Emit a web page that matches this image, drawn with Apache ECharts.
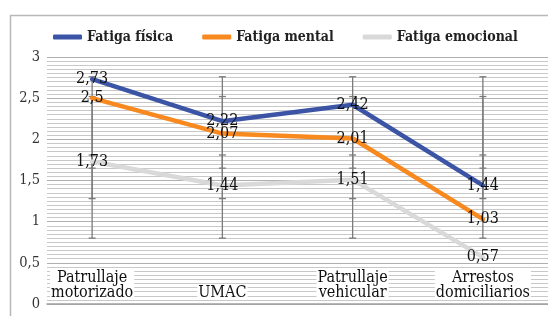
<!DOCTYPE html>
<html>
<head>
<meta charset="utf-8">
<script src="https://cdn.jsdelivr.net/npm/echarts@6/dist/echarts.min.js"></script>
<style>html,body{margin:0;padding:0;background:#fff}#c{width:548px;height:316px}</style>
</head>
<body>
<div id="c"></div>
<script>
var categories = ['Patrullaje\nmotorizado', 'UMAC', 'Patrullaje\nvehicular', 'Arrestos\ndomiciliarios'];
var seriesNames = ['Fatiga física', 'Fatiga mental', 'Fatiga emocional'];
var fisica = [2.73, 2.22, 2.42, 1.44];
var mental = [2.5, 2.07, 2.01, 1.03];
var emocional = [1.73, 1.44, 1.51, 0.57];
// error bar ranges [low, high]
var fisicaErr = [1.65, 2.76];
var mentalErr = [1.28, 2.52];
var emocionalErr = [0.80, 1.81];

var colors = ['#3b54a5', '#f7891f', '#d9d9d9'];
var serifC = 'DejaVu Serif Condensed';

function fmt(v) { return String(v).replace('.', ','); }

var errData = [];
[fisicaErr, mentalErr, emocionalErr].forEach(function (e) {
  categories.forEach(function (c, i) { errData.push([i, e[0], e[1]]); });
});

var chart = echarts.init(document.getElementById('c'), null, {renderer: 'canvas'});

function lineSeries(name, data, color, z) {
  return {
    name: name, type: 'line', xAxisIndex: 1, yAxisIndex: 1,
    data: data, symbol: 'circle', symbolSize: 2, showSymbol: true, z: z,
    lineStyle: {color: color, width: 4.5, cap: 'round'},
    itemStyle: {color: color},
    label: {
      show: true, position: 'inside', color: '#111',
      fontFamily: serifC, fontSize: 16,
      formatter: function (p) { return fmt(p.value); }
    },
    emphasis: {disabled: true}
  };
}

chart.setOption({
  animation: false,
  backgroundColor: '#fff',
  graphic: [{
    type: 'rect', z: -10,
    shape: {x: 10.5, y: 15.5, width: 700, height: 400},
    style: {fill: 'none', stroke: '#b8b8b8', lineWidth: 1.5}
  }],
  legend: {
    left: 48, top: 25, itemWidth: 29, itemHeight: 5, itemGap: 29,
    icon: 'roundRect',
    data: seriesNames,
    textStyle: {fontFamily: serifC, fontSize: 14, fontWeight: 'bold', color: '#222'}
  },
  grid: [
    {left: 47, right: 0, top: 57, bottom: 12},
    {left: 27, right: -16, top: 57, bottom: 12}
  ],
  xAxis: [
    {type: 'value', gridIndex: 0, min: 0, max: 1, show: true,
     axisLine: {show: true, onZero: true, lineStyle: {color: '#a0a0a0', width: 1.5}},
     axisTick: {show: false}, axisLabel: {show: false}, splitLine: {show: false}},
    {type: 'category', gridIndex: 1, data: categories, boundaryGap: true,
     axisLine: {show: false}, axisTick: {show: false}, splitLine: {show: false},
     axisLabel: {
       inside: true, margin: 4, interval: 0, color: '#111',
       fontFamily: serifC, fontSize: 16, lineHeight: 14.5,
       backgroundColor: '#fff', padding: [0, 1]
     }}
  ],
  yAxis: [
    {type: 'value', gridIndex: 0, min: 0, max: 3, interval: 0.5,
     axisLine: {show: false}, axisTick: {show: false},
     axisLabel: {margin: 7, color: '#333', fontFamily: serifC, fontSize: 14.5,
       formatter: function (v) { return fmt(v); }},
     splitLine: {show: true, lineStyle: {color: '#b0b0b0', width: 1}},
     minorTick: {show: false, splitNumber: 10},
     minorSplitLine: {show: true, lineStyle: {color: '#c8c8c8', width: 1}}},
    {type: 'value', gridIndex: 1, min: 0, max: 3, show: false,
     splitLine: {show: false}}
  ],
  series: [
    {
      type: 'custom', xAxisIndex: 1, yAxisIndex: 1, z: 1,
      data: errData, silent: true,
      renderItem: function (params, api) {
        var top = api.coord([api.value(0), api.value(2)]);
        var bot = api.coord([api.value(0), api.value(1)]);
        var s = {stroke: '#7a7a7a', lineWidth: 1.3};
        var w = 3.5;
        return {
          type: 'group',
          children: [
            {type: 'line', shape: {x1: top[0], y1: top[1], x2: bot[0], y2: bot[1]}, style: s},
            {type: 'line', shape: {x1: top[0] - w, y1: top[1], x2: top[0] + w, y2: top[1]}, style: s},
            {type: 'line', shape: {x1: bot[0] - w, y1: bot[1], x2: bot[0] + w, y2: bot[1]}, style: s}
          ]
        };
      }
    },
    lineSeries(seriesNames[2], emocional, colors[2], 3),
    lineSeries(seriesNames[1], mental, colors[1], 4),
    lineSeries(seriesNames[0], fisica, colors[0], 5)
  ]
});
</script>
</body>
</html>
